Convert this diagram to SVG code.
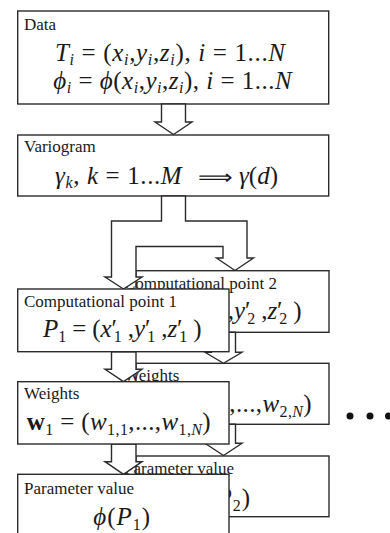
<svg xmlns="http://www.w3.org/2000/svg" width="390" height="533" viewBox="0 0 390 533">
<style>
.box{fill:#fff;stroke:#2b2b2b;stroke-width:1.4}
.arr{fill:#fff;stroke:#2b2b2b;stroke-width:1.4;stroke-linejoin:miter}
text{fill:#1a1a1a;font-family:"Liberation Serif","Times New Roman",serif}
.lbl{font-size:17px}
.f{font-size:25px;white-space:pre}
.i{font-style:italic}
.s{font-size:16px}
.b{font-weight:bold}
.dot{fill:#111}
</style>
<rect width="390" height="533" fill="#fff"/>

<g id="data">
<rect class="box" x="17.7" y="11" width="311" height="93"/>
<text class="lbl" x="24" y="29.5">Data</text>
<text class="f" x="55" y="60.5" textLength="230"><tspan class="i">T</tspan><tspan class="s i" dy="4">i</tspan><tspan dy="-4"> = (</tspan><tspan class="i">x</tspan><tspan class="s i" dy="4">i</tspan><tspan dy="-4">,</tspan><tspan class="i">y</tspan><tspan class="s i" dy="4">i</tspan><tspan dy="-4">,</tspan><tspan class="i">z</tspan><tspan class="s i" dy="4">i</tspan><tspan dy="-4">), </tspan><tspan class="i">i</tspan><tspan> = 1...</tspan><tspan class="i">N</tspan></text>
<text class="f" x="53.3" y="88.5" textLength="238.4"><tspan class="i">ϕ</tspan><tspan class="s i" dy="4">i</tspan><tspan dy="-4"> = </tspan><tspan class="i">ϕ</tspan><tspan>(</tspan><tspan class="i">x</tspan><tspan class="s i" dy="4">i</tspan><tspan dy="-4">,</tspan><tspan class="i">y</tspan><tspan class="s i" dy="4">i</tspan><tspan dy="-4">,</tspan><tspan class="i">z</tspan><tspan class="s i" dy="4">i</tspan><tspan dy="-4">), </tspan><tspan class="i">i</tspan><tspan> = 1...</tspan><tspan class="i">N</tspan></text>
</g>

<g id="variogram">
<rect class="box" x="17.7" y="135" width="311" height="61"/>
<text class="lbl" x="24" y="152.3">Variogram</text>
<text class="f" x="55" y="184" textLength="126.7"><tspan class="i">γ</tspan><tspan class="s i" dy="4">k</tspan><tspan dy="-4">, </tspan><tspan class="i">k</tspan><tspan> = 1...</tspan><tspan class="i">M</tspan></text>
<text x="198" y="184" font-family="DejaVu Sans, sans-serif" font-size="20" textLength="35" lengthAdjust="spacingAndGlyphs">⟹</text>
<text class="f" x="239" y="184"><tspan class="i">γ</tspan><tspan>(</tspan><tspan class="i">d</tspan><tspan>)</tspan></text>
</g>

<g id="comp2">
<rect class="box" x="136" y="270.7" width="193" height="61.6"/>
<text class="lbl" x="124" y="289.3">Computational point 2</text>
<text class="f" x="143" y="319" textLength="158.7"><tspan class="i">P</tspan><tspan class="s" dy="5">2</tspan><tspan dy="-5"> = (</tspan><tspan class="i">x</tspan><tspan>′</tspan><tspan class="s" dx="-3" dy="5">2</tspan><tspan dy="-5"> ,</tspan><tspan class="i">y</tspan><tspan>′</tspan><tspan class="s" dx="-3" dy="5">2</tspan><tspan dy="-5"> ,</tspan><tspan class="i">z</tspan><tspan>′</tspan><tspan class="s" dx="-3" dy="5">2</tspan><tspan dy="-5"> )</tspan></text>
</g>

<g id="weights2">
<rect class="box" x="136" y="363.3" width="193" height="61"/>
<text class="lbl" x="124" y="381.3">Weights</text>
<text class="f" x="127.7" y="412" textLength="184"><tspan class="b">w</tspan><tspan class="s" dy="5">2</tspan><tspan dy="-5"> = (</tspan><tspan class="i">w</tspan><tspan class="s" dy="5">2,1</tspan><tspan dy="-5">,...,</tspan><tspan class="i">w</tspan><tspan class="s" dy="5">2,</tspan><tspan class="s i">N</tspan><tspan dy="-5">)</tspan></text>
</g>

<g id="param2">
<rect class="box" x="136" y="456" width="193" height="60.7"/>
<text class="lbl" x="124" y="474.3">Parameter value</text>
<text class="f" x="193.3" y="506" textLength="56.7"><tspan class="i">ϕ</tspan><tspan>(</tspan><tspan class="i">P</tspan><tspan class="s" dy="5">2</tspan><tspan dy="-5">)</tspan></text>
</g>

<g id="connectors">
<polygon class="arr" points="161.5,104 161.5,122 155,122 173.5,134.5 192,122 185.5,122 185.5,104"/>
<polygon class="arr" points="161.5,196 161.5,221 111.5,221 111.5,277 105,277 123.5,289 142,277 136,277 136,246.5 223,246.5 223,258 216.5,258 235,270.5 253.5,258 247,258 247,221 185.5,221 185.5,196"/>
<polygon class="arr" points="211.5,332.3 211.5,352.3 205,352.3 223.5,363.3 242,352.3 235.5,352.3 235.5,332.3"/>
<polygon class="arr" points="111.5,351.7 111.5,369.3 105,369.3 123.5,381.7 142,369.3 136,369.3 136,351.7"/>
<polygon class="arr" points="211.5,424.3 211.5,443.3 205,443.3 223.5,455.5 242,443.3 235.5,443.3 235.5,424.3"/>
<polygon class="arr" points="111.5,444 111.5,461.7 105,461.7 123.5,474.3 142,461.7 136,461.7 136,444"/>
</g>

<g id="comp1">
<rect class="box" x="17.7" y="289" width="211.3" height="62.7"/>
<text class="lbl" x="24" y="307.3">Computational point 1</text>
<text class="f" x="43" y="337" textLength="158.7"><tspan class="i">P</tspan><tspan class="s" dy="5">1</tspan><tspan dy="-5"> = (</tspan><tspan class="i">x</tspan><tspan>′</tspan><tspan class="s" dx="-3" dy="5">1</tspan><tspan dy="-5"> ,</tspan><tspan class="i">y</tspan><tspan>′</tspan><tspan class="s" dx="-3" dy="5">1</tspan><tspan dy="-5"> ,</tspan><tspan class="i">z</tspan><tspan>′</tspan><tspan class="s" dx="-3" dy="5">1</tspan><tspan dy="-5"> )</tspan></text>
</g>

<g id="weights1">
<rect class="box" x="17.7" y="381.7" width="211.3" height="62.3"/>
<text class="lbl" x="24" y="399.3">Weights</text>
<text class="f" x="26.7" y="430" textLength="184"><tspan class="b">w</tspan><tspan class="s" dy="5">1</tspan><tspan dy="-5"> = (</tspan><tspan class="i">w</tspan><tspan class="s" dy="5">1,1</tspan><tspan dy="-5">,...,</tspan><tspan class="i">w</tspan><tspan class="s" dy="5">1,</tspan><tspan class="s i">N</tspan><tspan dy="-5">)</tspan></text>
</g>

<g id="param1">
<rect class="box" x="17.7" y="474.3" width="211.3" height="80"/>
<text class="lbl" x="24" y="494">Parameter value</text>
<text class="f" x="93.3" y="525" textLength="56.7"><tspan class="i">ϕ</tspan><tspan>(</tspan><tspan class="i">P</tspan><tspan class="s" dy="5">1</tspan><tspan dy="-5">)</tspan></text>
</g>

<g id="ellipsis">
<circle class="dot" cx="350" cy="416" r="3.5"/>
<circle class="dot" cx="370" cy="416" r="3.5"/>
<circle class="dot" cx="388.5" cy="416" r="3.5"/>
</g>
</svg>
